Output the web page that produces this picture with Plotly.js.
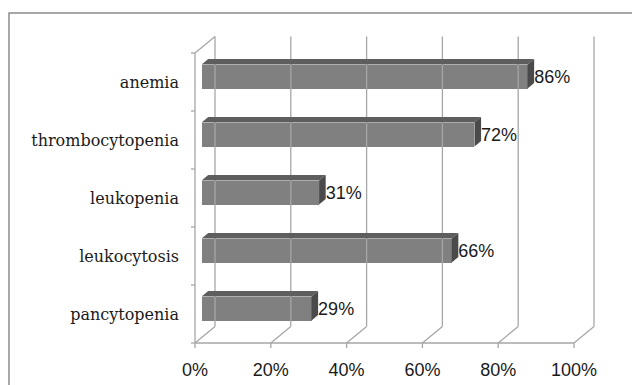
<!DOCTYPE html>
<html>
<head>
<meta charset="utf-8">
<script src="https://cdn.plot.ly/plotly-3.0.1.min.js"></script>
<style>
  html, body { margin: 0; padding: 0; background: #ffffff; }
  #chart { width: 632px; height: 385px; }
</style>
</head>
<body>
<div id="chart"></div>
<script>
// ---- data (top to bottom as shown) ----
const categories = ["anemia", "thrombocytopenia", "leukopenia", "leukocytosis", "pancytopenia"];
const values = [86, 72, 31, 66, 29];
const xTickValues = [0, 20, 40, 60, 80, 100];
const xTickLabels = ["0%", "20%", "40%", "60%", "80%", "100%"];

// ---- geometry / style constants ----
const W = 632, H = 385;
const PX_X0 = 195, PX_PER_X = 3.79;   // front plane: value 0 at px 195
const PX_Y0 = 343, PX_PER_Y = 58;     // front plane: y = -0.5 at px 343
const DOM_L = 185, DOM_B = 350;
const DX = 20 / PX_PER_X;             // full depth offset (x units)
const DY = 16.5 / PX_PER_Y;           // full depth offset (y units)
const F0 = 0.33, F1 = 0.66;           // bar depth range
const BAR_W = 24 / PX_PER_Y;
const GRID = "#a6a6a6";
const FRONT = "#808080", TOP = "#5e5e5e", SIDE = "#4a4a4a";
const TEXT = "#1a1a1a";

const n = categories.length;
const yIdx = categories.map((c, k) => n - 1 - k);
const yLo = -0.5, yHi = n - 0.5;

// ---- frame lines ----
const fx = [], fy = [];
function seg(x0, y0, x1, y1) { fx.push(x0, x1, null); fy.push(y0, y1, null); }
// back wall gridlines
xTickValues.forEach(t => seg(t + DX, yLo + DY, t + DX, yHi + DY));
// floor diagonals
xTickValues.forEach(t => seg(t, yLo, t + DX, yLo + DY));
// front baseline and ticks
seg(0, yLo, 100, yLo);
xTickValues.forEach(t => seg(t, yLo, t, yLo - 5 / PX_PER_Y));
// front left axis and ticks, top diagonal
seg(0, yLo, 0, yHi);
seg(0, yHi, DX, yHi + DY);
for (let b = yLo; b <= yHi + 1e-9; b += 1) seg(0, b, -4 / PX_PER_X, b);

const frame = {
  x: fx, y: fy, type: "scatter", mode: "lines",
  line: { color: GRID, width: 1.3 }, hoverinfo: "skip", showlegend: false
};

// ---- bars: front face ----
const bx0 = F0 * DX, by0 = F0 * DY;
const yc = yIdx.map(v => v + by0);
const front = {
  type: "bar", orientation: "h",
  x: values, y: yc, base: bx0, width: BAR_W,
  marker: { color: FRONT, line: { width: 0 } },
  hoverinfo: "skip", showlegend: false
};

// top & side faces
const ddx = (F1 - F0) * DX, ddy = (F1 - F0) * DY;
const tx = [], ty = [], sx = [], sy = [];
values.forEach((v, k) => {
  const yt = yc[k] + BAR_W / 2, yb = yc[k] - BAR_W / 2;
  const xr = bx0 + v;
  tx.push(bx0, xr, xr + ddx, bx0 + ddx, bx0, null);
  ty.push(yt, yt, yt + ddy, yt + ddy, yt, null);
  sx.push(xr, xr, xr + ddx, xr + ddx, xr, null);
  sy.push(yb, yt, yt + ddy, yb + ddy, yb, null);
});
const topFace = {
  x: tx, y: ty, type: "scatter", mode: "lines", fill: "toself",
  fillcolor: TOP, line: { width: 0, color: TOP }, hoverinfo: "skip", showlegend: false
};
const sideFace = {
  x: sx, y: sy, type: "scatter", mode: "lines", fill: "toself",
  fillcolor: SIDE, line: { width: 0, color: SIDE }, hoverinfo: "skip", showlegend: false
};

// data labels
const labels = {
  type: "scatter", mode: "text",
  x: values.map(v => bx0 + v + ddx),
  y: yc.map(v => v - 2 / PX_PER_Y),
  text: values.map(v => v + "%"),
  textposition: "middle right",
  textfont: { family: "Liberation Sans, Arial, sans-serif", size: 18, color: TEXT },
  cliponaxis: false, hoverinfo: "skip", showlegend: false
};

const layout = {
  width: W, height: H,
  margin: { l: 0, r: 0, t: 0, b: 0, pad: 0 },
  paper_bgcolor: "#ffffff", plot_bgcolor: "#ffffff",
  showlegend: false,
  bargap: 0,
  xaxis: {
    domain: [DOM_L / W, 1],
    range: [(DOM_L - PX_X0) / PX_PER_X, (W - PX_X0) / PX_PER_X],
    tickmode: "array", tickvals: xTickValues, ticktext: xTickLabels,
    ticks: "", showgrid: false, zeroline: false, showline: false,
    ticklabelstandoff: 7,
    tickfont: { family: "Liberation Sans, Arial, sans-serif", size: 18, color: TEXT },
    fixedrange: true
  },
  yaxis: {
    domain: [(H - DOM_B) / H, 1],
    range: [yLo - (DOM_B - PX_Y0) / PX_PER_Y, yLo + PX_Y0 / PX_PER_Y],
    tickmode: "array", tickvals: yIdx, ticktext: categories,
    ticks: "", showgrid: false, zeroline: false, showline: false,
    ticklabelstandoff: 5,
    tickfont: { family: "DejaVu Serif, serif", size: 16, color: TEXT },
    fixedrange: true
  },
  shapes: [{
    type: "rect", xref: "paper", yref: "paper",
    x0: 9 / W, x1: 1.02, y0: -0.02, y1: (H - 13) / H,
    line: { color: "#8c8c8c", width: 1.5 }, fillcolor: "rgba(0,0,0,0)", layer: "above"
  }]
};

Plotly.newPlot("chart", [frame, front, topFace, sideFace, labels], layout,
  { displayModeBar: false, staticPlot: true });
</script>
</body>
</html>
